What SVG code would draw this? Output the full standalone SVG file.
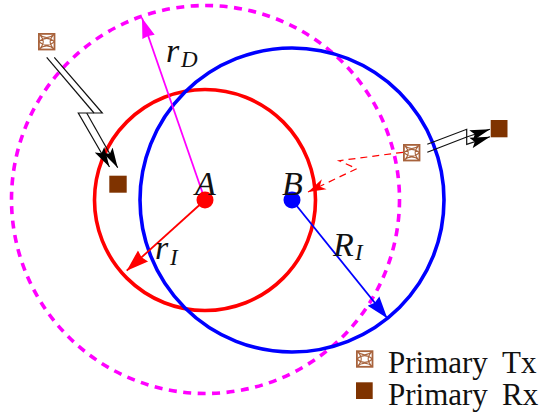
<svg xmlns="http://www.w3.org/2000/svg" width="540" height="416" viewBox="0 0 540 416">
<style>
text{font-family:"Liberation Serif","Times New Roman",serif;fill:#111}
.m{font-style:italic;font-size:34px}
.s{font-style:italic;font-size:23px}
.l{font-size:31px}
.bolt{fill:none;stroke:#111;stroke-width:1.200}
.rx{fill:#7f3300}
.txb{fill:#fff;stroke:#a8633c;stroke-width:1.800}
.txh{fill:none;stroke:#a8633c;stroke-width:1.100}
</style>
<defs>
<marker id="k" markerUnits="userSpaceOnUse" markerWidth="22" markerHeight="12" refX="20" refY="6" orient="auto"><path d="M0 .5L20 6L0 11.500L4 6Z" fill="#000"/></marker>
<marker id="r" markerUnits="userSpaceOnUse" markerWidth="24" markerHeight="18" refX="22" refY="9" orient="auto"><path d="M0 1.500L22 9L0 16.500L2 9Z" fill="#f00"/></marker>
<marker id="rd" markerUnits="userSpaceOnUse" markerWidth="20" markerHeight="14" refX="18" refY="7" orient="auto"><path d="M0 1.500L18 7L0 12.500L5 7Z" fill="#f00"/></marker>
<marker id="b" markerUnits="userSpaceOnUse" markerWidth="24" markerHeight="18" refX="22" refY="9" orient="auto"><path d="M0 1.500L22 9L0 16.500L2 9Z" fill="#00f"/></marker>
<marker id="g" markerUnits="userSpaceOnUse" markerWidth="22" markerHeight="16" refX="20" refY="8" orient="auto"><path d="M0 1.500L20 8L0 14.500L1 8Z" fill="#f0f"/></marker>
<g id="txs"><rect x="-7.800" y="-7.800" width="15.600" height="15.600" class="txb"/><path class="txh" d="M-7.800 -7.800C-3 -3 3 -3 7.800 -7.800M-7.800 0C-3 -4.500 3 -4.500 7.800 0M-7.800 0C-3 4.500 3 4.500 7.800 0M-7.800 7.800C-3 3 3 3 7.800 7.800M-7.800 -7.800C-2 -2 -2 2 -7.800 7.800M7.800 -7.800C2 -2 2 2 7.800 7.800"/></g>
</defs>
<g id="connectors" fill="none">
<circle id="circle-rD" cx="205.500" cy="199.500" r="194" stroke="#f0f" stroke-width="3.600" stroke-dasharray="8 6.500"/>
<circle id="circle-rI" cx="205" cy="200" r="110.500" stroke="#f00" stroke-width="3.600"/>
<circle id="circle-RI" cx="292" cy="200" r="152" stroke="#00f" stroke-width="3.600"/>
<line x1="205" y1="200" x2="142" y2="18" stroke="#f0f" stroke-width="1.800" marker-end="url(#g)"/>
<line x1="205" y1="200" x2="126.700" y2="270.700" stroke="#f00" stroke-width="1.800" marker-end="url(#r)"/>
<line x1="292" y1="200" x2="387.300" y2="318.300" stroke="#00f" stroke-width="1.800" marker-end="url(#b)"/>
<path d="M403 152.300L339 160.700L356.700 168.700L308 192" stroke="#f00" stroke-width="1.200" stroke-dasharray="7 5" marker-end="url(#rd)"/>
<path class="bolt" d="M46.700 57.300L94 113"/>
<path class="bolt" d="M54.300 57.300L102.300 113H78.300L109.500 167" marker-end="url(#k)"/>
<path class="bolt" d="M86.700 113L117.700 167.700" marker-end="url(#k)"/>
<path class="bolt" d="M427.300 152.300L466.700 137L490 129.300" marker-end="url(#k)"/>
<path class="bolt" d="M427.300 144.300L466.700 129.300V144.300L490 136.700" marker-end="url(#k)"/>
</g>
<g id="node-A"><circle cx="205" cy="200" r="8.500" fill="#f00"/><text class="m" x="195" y="195">A</text></g>
<g id="node-B"><circle cx="292" cy="200" r="8.500" fill="#00f"/><text class="m" x="282" y="195">B</text></g>
<g id="label-rD"><text class="m" x="166" y="62">r</text><text class="s" x="181" y="67">D</text></g>
<g id="label-rI"><text class="m" x="155" y="259">r</text><text class="s" x="170" y="265">I</text></g>
<g id="label-RI"><text class="m" x="333" y="256">R</text><text class="s" x="355" y="260">I</text></g>
<g id="tx1"><use href="#txs" x="46.700" y="41.700"/></g>
<g id="rx1"><rect class="rx" x="109.300" y="175.700" width="17.400" height="17"/></g>
<g id="tx2"><use href="#txs" x="411.700" y="152.700"/></g>
<g id="rx2"><rect class="rx" x="490.700" y="120" width="16.800" height="17.300"/></g>
<g id="legend-tx"><use href="#txs" x="364.700" y="359"/><text class="l" x="388" y="373">Primary</text><text class="l" x="502" y="373">Tx</text></g>
<g id="legend-rx"><rect class="rx" x="356" y="382.300" width="16.700" height="16.700"/><text class="l" x="388" y="405">Primary</text><text class="l" x="502" y="405">Rx</text></g>
</svg>
